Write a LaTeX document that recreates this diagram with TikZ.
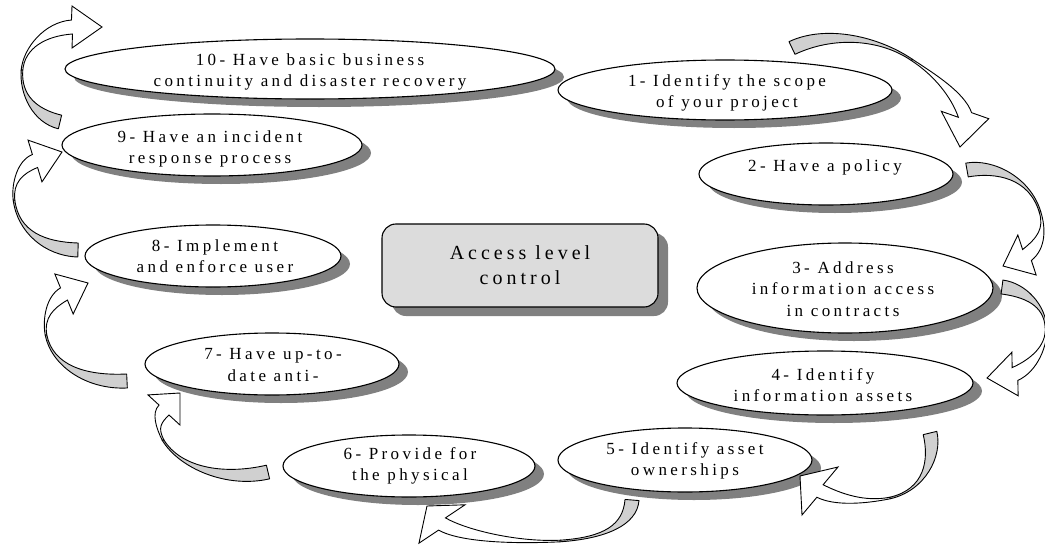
\documentclass[tikz,border=0pt]{standalone}
\usepackage{fontspec}
\setmainfont{Liberation Serif}[LetterSpace=20]
\usetikzlibrary{shapes.geometric,shadows,calc}
\definecolor{shadowgray}{HTML}{808080}
\definecolor{ribbongray}{HTML}{D0D0D0}
\definecolor{boxgray}{HTML}{DCDCDC}

\tikzset{
  ell/.style={ellipse, draw=black, line width=1.1pt, fill=white, inner sep=0pt,
    drop shadow={shadow xshift=9pt, shadow yshift=-8pt, fill=shadowgray, opacity=1}},
  accessbox/.style={rectangle, rounded corners=14pt, draw=black, line width=1.1pt,
    fill=boxgray, inner sep=0pt, minimum width=276pt, minimum height=83pt,
    drop shadow={shadow xshift=10pt, shadow yshift=-9pt, fill=shadowgray, opacity=1}},
  lbl/.style={align=center, inner sep=0pt, font=\fontsize{17}{21.5}\selectfont},
  boxlbl/.style={align=center, inner sep=0pt, font=\fontsize{20}{25}\selectfont},
  backpart/.style={draw=black, fill=ribbongray, line width=0.9pt, line join=round},
  frontpart/.style={draw=black, fill=white, line width=0.9pt, line join=miter},
}

% half widths of a ribbon: at the tail / neck, and where it twists over
\def\ribw{7pt}
\def\ribx{0.8pt}

% curved ribbon arrow:
% #1 tail, #2 #3 controls, #4 twist point, #5 #6 controls, #7 neck, #8 tip, #9 head half-width
\newcommand\curvedribbon[9]{%
  % underside, tapering from the tail to the twist
  \coordinate (rL0) at ($#1!\ribw!90:#2$);
  \coordinate (rR0) at ($#1!\ribw!-90:#2$);
  \coordinate (rL3) at ($#4!\ribx!-90:#3$);
  \coordinate (rR3) at ($#4!\ribx!90:#3$);
  \filldraw[backpart] (rL0) .. controls ($(rL0)+#2-#1$) and ($(rL3)+#3-#4$) .. (rL3)
     -- (rR3) .. controls ($(rR3)+#3-#4$) and ($(rR0)+#2-#1$) .. (rR0) -- cycle;
  % upper side, widening from the twist to the arrow head
  \coordinate (fL0) at ($#4!\ribx!90:#5$);
  \coordinate (fR0) at ($#4!\ribx!-90:#5$);
  \coordinate (fL3) at ($#7!\ribw!-90:#6$);
  \coordinate (fR3) at ($#7!\ribw!90:#6$);
  \filldraw[frontpart] (fL0) .. controls ($(fL0)+#5-#4$) and ($(fL3)+#6-#7$) .. (fL3)
     -- ($#7!#9!90:#8$) -- #8 -- ($#7!#9!-90:#8$)
     -- (fR3) .. controls ($(fR3)+#6-#7$) and ($(fR0)+#5-#4$) .. (fR0) -- cycle;
}

\begin{document}
\begin{tikzpicture}[x=1pt,y=-1pt]
\clip (0,0) rectangle (1045,546);

% steps around the cycle
\node[ell, minimum width=490pt, minimum height=60pt] (e10) at (310,69) {};
\node[ell, minimum width=334pt, minimum height=60pt] (e1) at (725,90) {};
\node[ell, minimum width=300pt, minimum height=62pt] (e9) at (212,145) {};
\node[ell, minimum width=254pt, minimum height=62pt] (e2) at (826,174) {};
\node[accessbox] (core) at (520,265.5) {};
\node[ell, minimum width=296pt, minimum height=90pt] (e3) at (845,288) {};
\node[ell, minimum width=296pt, minimum height=64pt] (e4) at (825,383) {};
\node[ell, minimum width=254pt, minimum height=64pt] (e5) at (685,460) {};
\node[ell, minimum width=252pt, minimum height=62pt] (e6) at (409,466) {};
\node[ell, minimum width=254pt, minimum height=62pt] (e7) at (272,364) {};
\node[ell, minimum width=256pt, minimum height=62pt] (e8) at (213,256) {};

% arrow ends: tail, neck, tip
\coordinate (a1s) at (792,48);   \coordinate (a1n) at (965,115);  \coordinate (a1h) at (960,147);
\coordinate (a2s) at (967,170);  \coordinate (a2n) at (1027,255); \coordinate (a2h) at (1003,266);
\coordinate (a3s) at (1002,287); \coordinate (a3n) at (1015,374); \coordinate (a3h) at (987,378);
\coordinate (a4s) at (930,433);  \coordinate (a4n) at (820,491);  \coordinate (a4h) at (800,476);
\coordinate (a5s) at (632,500);  \coordinate (a5n) at (442,524);  \coordinate (a5h) at (427,506);
\coordinate (a6s) at (268,472);  \coordinate (a6n) at (164,410);  \coordinate (a6h) at (180,393);
\coordinate (a7s) at (127,381);  \coordinate (a7n) at (64,294);   \coordinate (a7h) at (88,283);
\coordinate (a8s) at (78,250);   \coordinate (a8n) at (35,161);   \coordinate (a8h) at (62,152);
\coordinate (a9s) at (60,122);   \coordinate (a9n) at (72,27);    \coordinate (a9h) at (102,27);

\curvedribbon{(a1s)}{(830,30)}{(880,38)}{(912,60)}{(935,75)}{(958,95)}{(a1n)}{(a1h)}{24pt}
\curvedribbon{(a2s)}{(995,165)}{(1030,178)}{(1040,212)}{(1045,228)}{(1042,243)}{(a2n)}{(a2h)}{22pt}
\curvedribbon{(a3s)}{(1025,290)}{(1045,305)}{(1046,328)}{(1047,345)}{(1035,365)}{(a3n)}{(a3h)}{22pt}
\curvedribbon{(a4s)}{(936,458)}{(925,490)}{(890,498)}{(865,503)}{(838,500)}{(a4n)}{(a4h)}{30pt}
\curvedribbon{(a5s)}{(630,525)}{(605,538)}{(560,541)}{(520,543)}{(465,537)}{(a5n)}{(a5h)}{30pt}
\curvedribbon{(a6s)}{(225,482)}{(180,468)}{(163,440)}{(157,428)}{(156,418)}{(a6n)}{(a6h)}{22pt}
\curvedribbon{(a7s)}{(85,383)}{(52,365)}{(46,335)}{(43,318)}{(50,302)}{(a7n)}{(a7h)}{22pt}
\curvedribbon{(a8s)}{(45,249)}{(18,232)}{(14,200)}{(12,183)}{(20,167)}{(a8n)}{(a8h)}{22pt}
\curvedribbon{(a9s)}{(35,116)}{(20,95)}{(22,70)}{(24,48)}{(45,29)}{(a9n)}{(a9h)}{21pt}

% texts
\node[lbl] (t10) at (310,72) {10- Have basic business\\continuity and disaster recovery};
\node[lbl] (t1) at (727,93) {1- Identify the scope\\of your project};
\node[lbl] (t9) at (210,149) {9- Have an incident\\response process};
\node[lbl] (t2) at (825,167) {2- Have a policy};
\node[boxlbl] (tc) at (520,265) {Access level\\control};
\node[lbl] (t3) at (843,289) {3- Address\\information access\\in contracts};
\node[lbl] (t4) at (823,385) {4- Identify\\information assets};
\node[lbl] (t5) at (685,461) {5- Identify asset\\ownerships};
\node[lbl] (t6) at (410,466) {6- Provide for\\the physical};
\node[lbl] (t7) at (273,365) {7- Have up-to-\\date anti-};
\node[lbl] (t8) at (215,256) {8- Implement\\and enforce user};
\end{tikzpicture}
\end{document}
